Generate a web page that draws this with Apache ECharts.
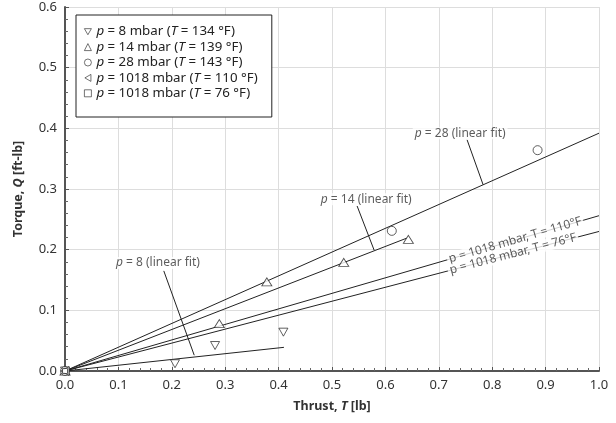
<!DOCTYPE html>
<html>
<head>
<meta charset="utf-8">
<script src="https://cdn.jsdelivr.net/npm/echarts@6/dist/echarts.min.js"></script>
<style>
  html, body { margin: 0; padding: 0; background: #fff; }
  #chart { width: 616px; height: 423px; }
</style>
</head>
<body>
<div id="chart"></div>
<script>
// Measured thrust [lb] / torque [ft-lb] pairs per test condition
const p8Points     = [[0, 0], [0.206, 0.012], [0.281, 0.042], [0.409, 0.064]];
const p14Points    = [[0, 0], [0.289, 0.078], [0.378, 0.147], [0.522, 0.179], [0.643, 0.217]];
const p28Points    = [[0, 0], [0.612, 0.231], [0.885, 0.364]];
const p1018HotPts  = [[0, 0]];
const p1018ColdPts = [[0, 0]];

// Linear fits (start, end)
const fitP8   = [[0, 0], [0.41, 0.039]];
const fitP14  = [[0, 0], [0.64, 0.219]];
const fitP28  = [[0, 0], [1.0, 0.392]];
const fitHot  = [[0, 0], [1.0, 0.256]];
const fitCold = [[0, 0], [1.0, 0.230]];

// Fit annotations: label anchor and leader line
const noteP8Label   = [0.174, 0.178];
const noteP8Leader  = [[0.185, 0.165], [0.242, 0.026]];
const noteP14Label  = [0.564, 0.283];
const noteP14Leader = [[0.547, 0.272], [0.579, 0.199]];
const noteP28Label  = [0.740, 0.392];
const noteP28Leader = [[0.753, 0.381], [0.783, 0.307]];
const noteHotAt  = 0.843;
const noteColdAt = 0.839;

const legendNames = [
  'p = 8 mbar (T = 134 °F)',
  'p = 14 mbar (T = 139 °F)',
  'p = 28 mbar (T = 143 °F)',
  'p = 1018 mbar (T = 110 °F)',
  'p = 1018 mbar (T = 76 °F)'
];

const FONT = 'Noto Sans';
const INK = '#222';
const DOWN_TRI = 'path://M0,0L10,0L5,8.66Z';
const LEFT_TRI = 'path://M8.66,0L8.66,10L0,5Z';

const chart = echarts.init(document.getElementById('chart'), null, { renderer: 'canvas' });

function markerSeries(name, data, symbol, size) {
  return {
    name: name, type: 'scatter', data: data, symbol: symbol, symbolSize: size,
    itemStyle: { color: '#fff', borderColor: INK, borderWidth: 0.9 },
    z: 4
  };
}
function fitSeries(data) {
  return {
    type: 'line', data: data, symbol: 'none', silent: true,
    lineStyle: { color: INK, width: 1 }, z: 3
  };
}
function labelStyle(text, rotate) {
  return {
    show: true, position: 'inside', formatter: text, rotate: rotate || 0,
    fontFamily: FONT, fontSize: 12, color: '#333',
    backgroundColor: '#fff', padding: [0, 2],
    rich: { i: { fontStyle: 'italic', fontFamily: FONT, fontSize: 12, color: '#333' } }
  };
}
function noteSeries(at, text, rotate) {
  return {
    type: 'scatter', data: [at], symbol: 'circle', symbolSize: 0, silent: true, z: 6,
    itemStyle: { color: 'transparent' },
    label: labelStyle(text, rotate)
  };
}

const LEG_FS = 13.3;
const TICK_FS = 13;
const TITLE_FS = 12.5;

const option = {
  animation: false,
  backgroundColor: '#fff',
  textStyle: { fontFamily: FONT },
  grid: { left: 65, right: 17, top: 7, bottom: 52, containLabel: false },
  legend: {
    orient: 'vertical', left: 76, top: 15,
    data: legendNames,
    padding: [9, 14, 16, 8],
    itemGap: 0, itemWidth: 7, itemHeight: 7,
    borderColor: INK, borderWidth: 1, backgroundColor: '#fff',
    selectedMode: false,
    itemStyle: { color: '#fff', borderColor: INK, borderWidth: 0.8 },
    textStyle: {
      fontFamily: FONT, fontSize: LEG_FS, color: '#222', lineHeight: 15.4,
      rich: { i: { fontStyle: 'italic', fontFamily: FONT, fontSize: LEG_FS, color: '#222', lineHeight: 15.4 } }
    },
    formatter: function (n) {
      return n.replace(/^p/, '{i|p}').replace('(T', '({i|T}');
    }
  },
  xAxis: {
    type: 'value', min: 0, max: 1, interval: 0.1,
    name: '{b|Thrust, }{bi|T}{b| [lb]}', nameLocation: 'middle', nameGap: 29,
    nameTextStyle: {
      rich: {
        b: { fontFamily: FONT, fontSize: TITLE_FS, fontWeight: 'bold', color: '#333' },
        bi: { fontFamily: FONT, fontSize: TITLE_FS, fontWeight: 'bold', fontStyle: 'italic', color: '#333' }
      }
    },
    axisLine: { lineStyle: { color: '#555', width: 2 } },
    axisTick: { show: true, inside: true, length: 4, lineStyle: { color: '#555' } },
    minorTick: { show: true, splitNumber: 5, length: 3, lineStyle: { color: '#666' } },
    axisLabel: { fontFamily: FONT, fontSize: TICK_FS, color: '#333', margin: 8,
      formatter: v => v.toFixed(1) },
    splitLine: { show: true, lineStyle: { color: '#ddd', width: 1 } }
  },
  yAxis: {
    type: 'value', min: 0, max: 0.6, interval: 0.1,
    name: '{b|Torque, }{bi|Q}{b| [ft-lb]}', nameLocation: 'middle', nameGap: 40,
    nameTextStyle: {
      rich: {
        b: { fontFamily: FONT, fontSize: TITLE_FS, fontWeight: 'bold', color: '#333' },
        bi: { fontFamily: FONT, fontSize: TITLE_FS, fontWeight: 'bold', fontStyle: 'italic', color: '#333' }
      }
    },
    axisLine: { show: true, lineStyle: { color: '#555', width: 2 } },
    axisTick: { show: true, inside: true, length: 4, lineStyle: { color: '#555' } },
    minorTick: { show: true, splitNumber: 5, length: 3, lineStyle: { color: '#666' } },
    axisLabel: { fontFamily: FONT, fontSize: TICK_FS, color: '#333', margin: 8,
      formatter: v => v.toFixed(1) },
    splitLine: { show: true, lineStyle: { color: '#ddd', width: 1 } }
  },
  series: [
    fitSeries(fitP8), fitSeries(fitP14), fitSeries(fitP28), fitSeries(fitHot), fitSeries(fitCold),
    fitSeries(noteP8Leader), fitSeries(noteP14Leader), fitSeries(noteP28Leader),
    markerSeries(legendNames[0], p8Points, DOWN_TRI, [9, 8]),
    markerSeries(legendNames[1], p14Points, 'triangle', [10, 8]),
    markerSeries(legendNames[2], p28Points, 'circle', 9),
    markerSeries(legendNames[3], p1018HotPts, LEFT_TRI, [8, 9]),
    markerSeries(legendNames[4], p1018ColdPts, 'rect', 5),
    noteSeries(noteP8Label, '{i|p} = 8 (linear fit)'),
    noteSeries(noteP14Label, '{i|p} = 14 (linear fit)'),
    noteSeries(noteP28Label, '{i|p} = 28 (linear fit)')
  ]
};

chart.setOption(option);

// Inline labels sit on the 1018 mbar fits, tilted to follow each line on screen
function slopeAngle(fit) {
  const a = chart.convertToPixel({ gridIndex: 0 }, fit[0]);
  const b = chart.convertToPixel({ gridIndex: 0 }, fit[1]);
  return -Math.atan2(b[1] - a[1], b[0] - a[0]) * 180 / Math.PI;
}
function onFit(fit, x) {
  return [x, fit[1][1] / fit[1][0] * x];
}
option.series.push(
  noteSeries(onFit(fitHot, noteHotAt), 'p = 1018 mbar, T = 110°F', slopeAngle(fitHot)),
  noteSeries(onFit(fitCold, noteColdAt), 'p = 1018 mbar, T = 76°F', slopeAngle(fitCold))
);
chart.setOption(option);
</script>
</body>
</html>
